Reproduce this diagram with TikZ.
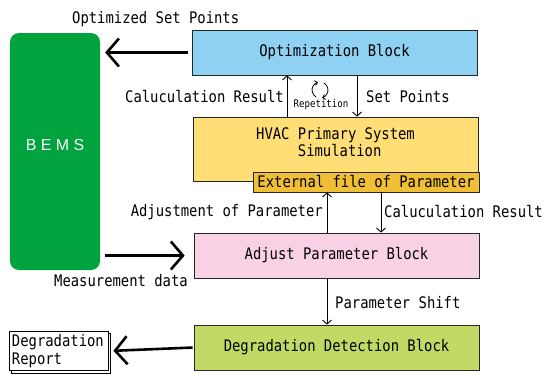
\documentclass[tikz,border=0pt]{standalone}
\usepackage{fontspec}
\usepackage{tikz}
\usetikzlibrary{arrows.meta}
\usetikzlibrary{calc}
\usetikzlibrary{shadows}

\newfontfamily\gothic[FakeStretch=0.87]{DejaVu Sans Mono}
\newfontfamily\bemsfont{Liberation Sans}

\definecolor{bemsgreen}{RGB}{0,163,62}
\definecolor{optblue}{RGB}{142,209,242}
\definecolor{hvacyellow}{RGB}{255,222,118}
\definecolor{extorange}{RGB}{240,191,53}
\definecolor{adjpink}{RGB}{248,210,228}
\definecolor{deggreen}{RGB}{192,218,101}

\begin{document}
\begin{tikzpicture}[x=1bp, y=-1bp,
        block_style/.style={draw=black!85, line width=0.8bp, minimum width=285bp, minimum height=45bp, inner sep=0pt, font=\gothic\fontsize{16}{15}\selectfont},
        text_style/.style={inner sep=0pt, font=\gothic\fontsize{16}{16}\selectfont},
        big_edge_style/.style={draw=black, line width=2.6bp, -{Straight Barb[length=12bp,width=28bp]}},
        small_edge_style/.style={draw=black, line width=0.9bp, -{Straight Barb[length=4bp,width=9bp]}},
        turn_style/.style={draw=black, line width=0.8bp, -{Straight Barb[length=2.5bp,width=5bp]}}]

        \useasboundingbox (0,0) rectangle (545,376);

        \node [fill=bemsgreen, rounded corners=9bp, minimum width=90bp, minimum height=237bp, text depth=13bp, text=white, font=\bemsfont\fontsize{16}{16}\selectfont](bems) at (55,151.5) {B E M S};

        \node [block_style, fill=optblue](opt) at (334.5,52.5) {Optimization Block};

        \node [block_style, fill=hvacyellow, minimum height=64bp, text depth=14bp, align=center](hvac) at (335.5,149) {HVAC Primary System\\\ Simulation};

        \node [block_style, fill=extorange, minimum width=226bp, minimum height=20bp](ext) at (366,182) {External file of Parameter};

        \node [block_style, fill=adjpink](adj) at (336.5,255.5) {Adjust Parameter Block};

        \node [block_style, fill=deggreen](deg) at (336.5,347.5) {Degradation Detection Block};

        \node [draw=black, line width=0.8bp, fill=white, copy shadow={shadow xshift=2.5bp, shadow yshift=-2.5bp}, text width=93bp, minimum height=38bp, inner sep=3bp, align=left, font=\gothic\fontsize{16}{18}\selectfont](rep) at (58.5,351) {Degradation\\Report};

        \coordinate (c1) at (287,0);
        \coordinate (c2) at (357,0);
        \coordinate (c3) at (327,0);
        \coordinate (c4) at (381,0);
        \coordinate (rc) at (320,90);

        \node [text_style, anchor=west](optset) at (72,19) {Optimized Set Points};
        \node [text_style, anchor=east](calc1) at (284,97) {Caluculation Result};
        \node [text_style, anchor=west](setp) at (366,97) {Set Points};
        \node [inner sep=0pt, font=\gothic\fontsize{10.5}{10.5}\selectfont](rept) at (321,105) {Repetition};
        \node [text_style, anchor=east](adjp) at (323,212) {Adjustment of Parameter};
        \node [text_style, anchor=west](calc2) at (384,212) {Caluculation Result};
        \node [text_style, anchor=west](meas) at (54,281) {Measurement data};
        \node [text_style, anchor=west](pshift) at (335,303) {Parameter Shift};

        \draw [big_edge_style, shorten <=4bp, shorten >=5bp] (opt.west) -- (bems.east |- opt.west);

        \draw [big_edge_style, shorten <=5bp, shorten >=9bp] (bems.east |- adj.west) -- (adj.west);

        \draw [big_edge_style, shorten <=1bp, shorten >=5bp] (deg.west) -- (rep.east);

        \draw [small_edge_style] (hvac.north -| c1) -- (opt.south -| c1);

        \draw [small_edge_style] (opt.south -| c2) -- (hvac.north -| c2);

        \draw [small_edge_style] (adj.north -| c3) -- (ext.south -| c3);

        \draw [small_edge_style] (ext.south -| c4) -- (adj.north -| c4);

        \draw [small_edge_style] (adj.south -| c3) -- (deg.north -| c3);

        \draw [turn_style] (rc) ++(120:8) arc[start angle=120, end angle=255, radius=8];

        \draw [turn_style] (rc) ++(-60:8) arc[start angle=-60, end angle=75, radius=8];

        \end{tikzpicture}
\end{document}
